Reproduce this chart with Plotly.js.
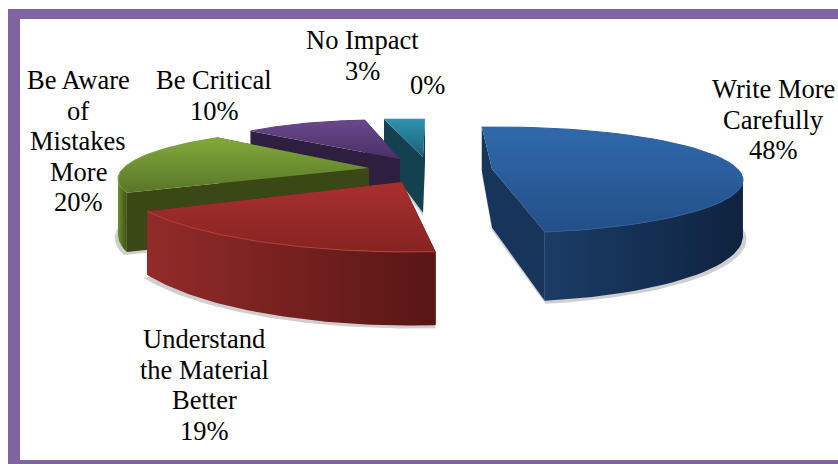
<!DOCTYPE html>
<html>
<head>
<meta charset="utf-8">
<script src="https://cdn.plot.ly/plotly-3.0.1.min.js"></script>
<style>html,body{margin:0;padding:0;background:#fff}#chart{width:838px;height:464px}</style>
</head>
<body>
<div id="chart"></div>
<script>
// Data
const categories = ["Write More Carefully", "Understand the Material Better", "Be Aware of Mistakes More", "Be Critical", "No Impact", "Other"];
const percents = [48, 19, 20, 10, 3, 0];
const labelLines = [
  ["Write More", "Carefully"],
  ["Understand", "the Material", "Better"],
  ["Be Aware", "of", "Mistakes", "More"],
  ["Be Critical"],
  ["No Impact"],
  []
];

// Projection of each slice on the tilted, exploded pie
const rotation = -3.8;
const angleWarp = [0, 6, 16.6, 10.6, 9.2, 0];
const centerX = [498, 410, 345, 379, 404.5, 0];
const centerY = [180, 178, 179, 167, 167, 0];
const radiusX = [245, 294, 227, 200, 218, 0];
const radiusY = [53, 74, 50, 47, 48, 0];
const apexX = [492, 402, 369, 400, 423, 0];
const apexY = [169, 182, 168, 159, 157, 0];
const depthBase = 13, depthSlope = 0.24, apexExtraDepth = 5;

// Styles (first colour = top of the face, second = bottom of the face)
const topColors = [["#3069ab", "#234f88"], ["#a8302f", "#862422"], ["#83a93c", "#587628"], ["#6a488c", "#4a3066"], ["#2f93b0", "#1c6074"]];
const rimColors = ["#2c5f9e", "#b8403c", "#7d9f38", "#5f4080", "#2a86a0"];
const outerColors = [["#1b3c66", "#0f2340"], ["#922b29", "#581615"], ["#6b8e2d", "#3e5018"], ["#2e1f3f", "#2e1f3f"], ["#13414f", "#13414f"]];
const sideColors = ["#17345a", "#5a1716", "#3a4816", "#2e1f3f", "#13414f"];
const frameColor = "#8064a2";
const labelX = [773, 204, 78, 214, 362, 427];
const labelY = [89, 339, 80, 80, 40, 85];
const lineGap = 30.6;
const fontSize = 26.5;

const depth = y => depthBase + depthSlope * y;
const rad = d => d * Math.PI / 180;

function rimPoint(i, phi) {
  return [centerX[i] + radiusX[i] * Math.sin(rad(phi)), centerY[i] - radiusY[i] * Math.cos(rad(phi))];
}
function poly(pts, extra) {
  const xs = pts.map(p => p[0]), ys = pts.map(p => p[1]);
  xs.push(xs[0]); ys.push(ys[0]);
  return Object.assign({ x: xs, y: ys, mode: "lines", line: { width: 0 }, fill: "toself", hoverinfo: "skip", showlegend: false }, extra);
}
const drop = p => [p[0], p[1] + depth(p[1])];

const traces = [];
const order = [4, 3, 2, 1, 0];
const starts = [];
let acc = rotation;
percents.forEach(v => { starts.push(acc); acc += v * 3.6; });

order.forEach(i => {
  const a0 = starts[i] + angleWarp[i], sweep = percents[i] * 3.6;
  const rim = [];
  for (let k = 0; k <= 60; k++) rim.push(rimPoint(i, a0 + sweep * k / 60));
  const apex = [apexX[i], apexY[i]];
  const apexDown = [apex[0], apex[1] + depth(apex[1]) + apexExtraDepth];
  const first = rim[0], last = rim[rim.length - 1];

  // soft shadow
  const sh = rim.map(p => {
    const d = drop(p);
    return [centerX[i] + (d[0] - centerX[i]) * 1.014, d[1] + 3];
  }).concat([[apexDown[0], apexDown[1] + 3]]);
  traces.push(poly(sh, { fillcolor: "rgba(95,95,95,0.3)" }));

  // radial walls
  [first, last].forEach(p => {
    traces.push(poly([apex, p, drop(p), apexDown], { fillcolor: sideColors[i] }));
  });

  // outer wall, only where the rim faces the viewer
  const front = [];
  for (let k = 0; k <= 60; k++) {
    const phi = a0 + sweep * k / 60;
    if (Math.cos(rad(phi)) < 0.01) front.push(rimPoint(i, phi));
  }
  if (front.length > 1) {
    const wall = front.concat(front.slice().reverse().map(drop));
    traces.push(poly(wall, {
      fillcolor: outerColors[i][0],
      fillgradient: { type: "horizontal", colorscale: [[0, outerColors[i][0]], [1, outerColors[i][1]]] }
    }));
  }

  // top face: the y axis is reversed, so the gradient runs from the bottom colour
  traces.push(poly(rim.concat([apex]), {
    fillcolor: topColors[i][0],
    fillgradient: { type: "vertical", colorscale: [[0, topColors[i][1]], [1, topColors[i][0]]] }
  }));
  traces.push({ x: rim.map(p => p[0]), y: rim.map(p => p[1]), mode: "lines", line: { color: rimColors[i], width: 1 }, hoverinfo: "skip", showlegend: false });
});

// labels: one annotation per text line
const annotations = [];
categories.forEach((c, i) => {
  const lines = labelLines[i].concat([percents[i] + "%"]);
  lines.forEach((t, j) => annotations.push({
    x: labelX[i], y: labelY[i] + j * lineGap, xref: "x", yref: "y", text: t, showarrow: false,
    xanchor: "center", yanchor: "middle", font: { family: "Liberation Serif, Times New Roman, serif", size: fontSize, color: "#000" }
  }));
});

const frame = [[8, 20, 9, 470], [8, 850, 9, 19], [8, 850, 460, 470]].map(r => ({
  type: "rect", xref: "x", yref: "y", x0: r[0], x1: r[1], y0: r[2], y1: r[3],
  fillcolor: frameColor, line: { width: 0 }, layer: "above"
}));

Plotly.newPlot("chart", traces, {
  width: 838, height: 464, margin: { l: 0, r: 0, t: 0, b: 0 },
  paper_bgcolor: "#fff", plot_bgcolor: "#fff", showlegend: false,
  xaxis: { range: [0, 838], visible: false, fixedrange: true },
  yaxis: { range: [464, 0], visible: false, fixedrange: true },
  shapes: frame, annotations: annotations
}, { displayModeBar: false, staticPlot: true });
</script>
</body>
</html>
